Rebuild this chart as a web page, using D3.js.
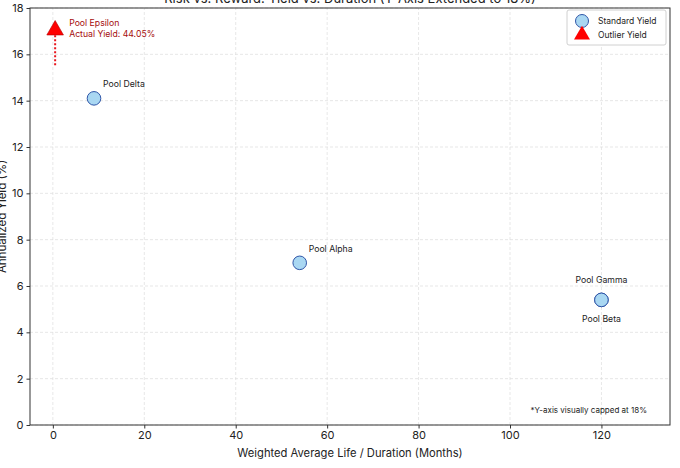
<!DOCTYPE html>
<html>
<head>
<meta charset="utf-8">
<script src="https://cdn.jsdelivr.net/npm/d3@7"></script>
<style>
  body { margin: 0; background: #fff; }
  svg { font-family: Inter, "Open Sans", sans-serif; }
</style>
</head>
<body>
<div id="chart"></div>
<script>
// data
var pools = ["Pool Alpha", "Pool Beta", "Pool Gamma", "Pool Delta"];
var durations = [54, 120, 120, 9];        // months
var yields = [7.0, 5.4, 5.4, 14.1];       // %

var outlierName = "Pool Epsilon";
var outlierDuration = 0.5;
var outlierActual = 44.05;
var outlierShown = 17;                    // drawn below the 18% cap
var outlierTail = 15.5;

var xTicks = [0, 20, 40, 60, 80, 100, 120];
var yTicks = [0, 2, 4, 6, 8, 10, 12, 14, 16, 18];

var width = 680, height = 468;
var margin = {top: 8, right: 10, bottom: 43, left: 30};

var svg = d3.select("#chart").append("svg")
    .attr("width", width)
    .attr("height", height);

var x = d3.scaleLinear().domain([-5, 135]).range([margin.left, width - margin.right]);
var y = d3.scaleLinear().domain([0, 18]).range([height - margin.bottom, margin.top]);

// grid
svg.append("g")
    .selectAll("line")
    .data(xTicks)
    .join("line")
    .attr("x1", d => x(d)).attr("x2", d => x(d))
    .attr("y1", y(0)).attr("y2", y(18))
    .attr("stroke", "#dcdcdc")
    .attr("stroke-dasharray", "3,2")
    .attr("stroke-width", 0.7);

svg.append("g")
    .selectAll("line")
    .data(yTicks)
    .join("line")
    .attr("x1", x(-5)).attr("x2", x(135))
    .attr("y1", d => y(d)).attr("y2", d => y(d))
    .attr("stroke", "#dcdcdc")
    .attr("stroke-dasharray", "3,2")
    .attr("stroke-width", 0.7);

// axes
var xAxis = svg.append("g")
    .attr("transform", "translate(0," + y(0) + ")")
    .call(d3.axisBottom(x).tickValues(xTicks).tickSize(3.5).tickPadding(3).tickSizeOuter(0));

var yAxis = svg.append("g")
    .attr("transform", "translate(" + x(-5) + ",0)")
    .call(d3.axisLeft(y).tickValues(yTicks).tickSize(3.5).tickPadding(3).tickSizeOuter(0));

[xAxis, yAxis].forEach(function(a) {
    a.select(".domain").remove();
    a.selectAll(".tick line").attr("stroke", "#333");
    a.selectAll(".tick text").attr("fill", "#222").style("font-size", "11px").style("font-family", "Inter, sans-serif");
});

// frame
svg.append("rect")
    .attr("x", x(-5)).attr("y", y(18))
    .attr("width", x(135) - x(-5))
    .attr("height", y(0) - y(18))
    .attr("fill", "none")
    .attr("stroke", "#333")
    .attr("stroke-width", 1);

// titles (the reference crops these at the edges)
svg.append("text")
    .attr("x", (x(-5) + x(135)) / 2)
    .attr("y", 3)
    .attr("text-anchor", "middle")
    .style("font-size", "13px")
    .attr("fill", "#222")
    .text("Risk vs. Reward: Yield vs. Duration (Y-Axis Extended to 18%)");

svg.append("text")
    .attr("x", (x(-5) + x(135)) / 2)
    .attr("y", 457)
    .attr("text-anchor", "middle")
    .style("font-size", "11.2px")
    .attr("fill", "#222")
    .text("Weighted Average Life / Duration (Months)");

svg.append("text")
    .attr("transform", "translate(6," + (y(0) + y(18)) / 2 + ") rotate(-90)")
    .attr("text-anchor", "middle")
    .style("font-size", "11.5px")
    .attr("fill", "#222")
    .text("Annualized Yield (%)");

// standard points
var pts = pools.map(function(p, i) { return {name: p, dur: durations[i], yld: yields[i]}; });

svg.append("g")
    .selectAll("circle")
    .data(pts)
    .join("circle")
    .attr("cx", d => x(d.dur))
    .attr("cy", d => y(d.yld))
    .attr("r", 6.8)
    .attr("fill", "#a9d7f2")
    .attr("stroke", "#3056a8")
    .attr("stroke-width", 1);

// label placement per pool
function labelPos(d) {
    if (d.name == "Pool Gamma") return {dx: 0, dy: -17, anchor: "middle"};
    if (d.name == "Pool Beta") return {dx: 0, dy: 22, anchor: "middle"};
    return {dx: 9, dy: -11, anchor: "start"};
}

svg.append("g")
    .selectAll("text")
    .data(pts)
    .join("text")
    .attr("x", d => x(d.dur) + labelPos(d).dx)
    .attr("y", d => y(d.yld) + labelPos(d).dy)
    .attr("text-anchor", d => labelPos(d).anchor)
    .style("font-size", "8.7px")
    .attr("fill", "#222")
    .text(d => d.name);

// outlier
svg.append("line")
    .attr("x1", x(outlierDuration)).attr("x2", x(outlierDuration))
    .attr("y1", y(outlierShown)).attr("y2", y(outlierTail))
    .attr("stroke", "#e8141c")
    .attr("stroke-width", 2)
    .attr("stroke-dasharray", "2,2");

svg.append("path")
    .attr("d", d3.symbol().type(d3.symbolTriangle).size(120))
    .attr("transform", "translate(" + x(outlierDuration) + "," + (y(outlierShown) - 1) + ")")
    .attr("fill", "#ff0000")
    .attr("stroke", "#b00000")
    .attr("stroke-width", 0.6);

var ot = svg.append("text")
    .attr("x", x(outlierDuration) + 14)
    .attr("y", y(outlierShown) - 5)
    .style("font-size", "8.7px")
    .attr("fill", "#a50d0d");
ot.append("tspan").text(outlierName);
ot.append("tspan")
    .attr("x", x(outlierDuration) + 14)
    .attr("dy", 11)
    .text("Actual Yield: " + outlierActual.toFixed(2) + "%");

// footnote
svg.append("text")
    .attr("x", 647)
    .attr("y", 413)
    .attr("text-anchor", "end")
    .style("font-size", "8px")
    .attr("fill", "#222")
    .text("*Y-axis visually capped at 18%");

// legend
var lg = svg.append("g").attr("transform", "translate(567,10)");
lg.append("rect")
    .attr("width", 99).attr("height", 35).attr("rx", 2)
    .attr("fill", "#fff").attr("stroke", "#d0d0d0");
lg.append("circle")
    .attr("cx", 15).attr("cy", 11).attr("r", 6.5)
    .attr("fill", "#a9d7f2").attr("stroke", "#3056a8");
lg.append("path")
    .attr("d", d3.symbol().type(d3.symbolTriangle).size(110))
    .attr("transform", "translate(15,25)")
    .attr("fill", "#ff0000");
lg.append("text").attr("x", 31).attr("y", 14).style("font-size", "8.5px").attr("fill", "#222").text("Standard Yield");
lg.append("text").attr("x", 31).attr("y", 28).style("font-size", "8.5px").attr("fill", "#222").text("Outlier Yield");
</script>
</body>
</html>
